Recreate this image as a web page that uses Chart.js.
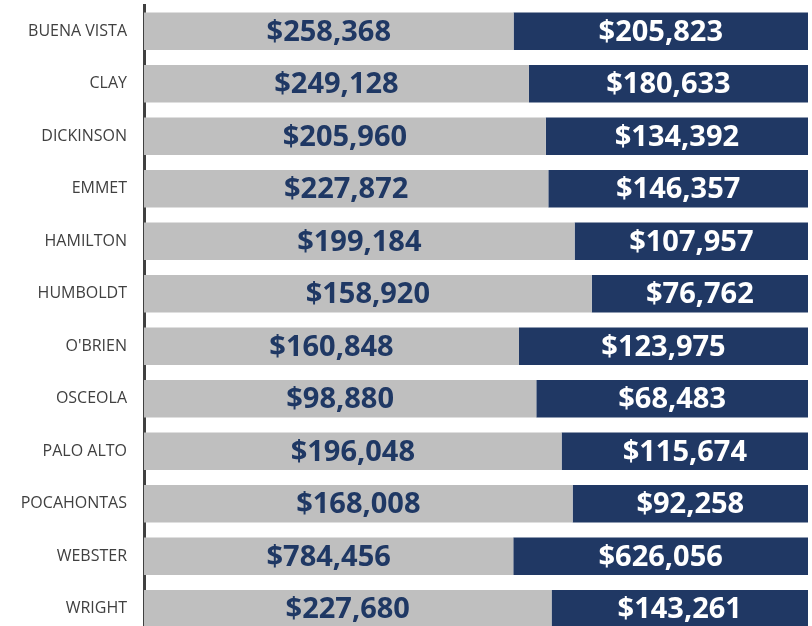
<!DOCTYPE html>
<html>
<head>
<meta charset="utf-8">
<script src="https://cdn.jsdelivr.net/npm/chart.js@4"></script>
<style>
    html, body { margin: 0; padding: 0; background: #fff; overflow: hidden; }
    canvas { display: block; }
</style>
</head>
<body>
<canvas id="chart" width="812" height="640"></canvas>
<script>
const counties = ['BUENA VISTA', 'CLAY', 'DICKINSON', 'EMMET', 'HAMILTON', 'HUMBOLDT',
    "O'BRIEN", 'OSCEOLA', 'PALO ALTO', 'POCAHONTAS', 'WEBSTER', 'WRIGHT'];
const greyValues = [258368, 249128, 205960, 227872, 199184, 158920, 160848, 98880, 196048, 168008, 784456, 227680];
const navyValues = [205823, 180633, 134392, 146357, 107957, 76762, 123975, 68483, 115674, 92258, 626056, 143261];

// bars are 100% stacked, so turn each pair into shares
function share(values, i) {
    return values[i] / (greyValues[i] + navyValues[i]) * 100;
}

function money(v) {
    return '$' + v.toLocaleString('en-US');
}

const segmentLabels = {
    id: 'segmentLabels',
    afterDatasetsDraw(chart) {
        const ctx = chart.ctx;
        ctx.save();
        ctx.font = 'bold 29px "Open Sans"';
        ctx.textAlign = 'center';
        ctx.textBaseline = 'middle';
        chart.data.datasets.forEach((ds, di) => {
            const meta = chart.getDatasetMeta(di);
            meta.data.forEach((bar, i) => {
                ctx.fillStyle = ds.labelColor;
                ctx.fillText(money(ds.raw[i]), (bar.x + bar.base) / 2, bar.y + 1);
            });
        });
        ctx.restore();
    }
};

new Chart(document.getElementById('chart'), {
    type: 'bar',
    data: {
        labels: counties,
        datasets: [
            {
                data: counties.map((c, i) => share(greyValues, i)),
                raw: greyValues,
                backgroundColor: '#BFBFBF',
                labelColor: '#1F3864',
                categoryPercentage: 1,
                barPercentage: 0.71
            },
            {
                data: counties.map((c, i) => share(navyValues, i)),
                raw: navyValues,
                backgroundColor: '#203864',
                labelColor: '#FFFFFF',
                categoryPercentage: 1,
                barPercentage: 0.71
            }
        ]
    },
    options: {
        indexAxis: 'y',
        responsive: false,
        animation: false,
        layout: { padding: { top: 5, bottom: 5, right: 4, left: 0 } },
        plugins: {
            legend: { display: false },
            tooltip: { enabled: false }
        },
        scales: {
            x: {
                stacked: true,
                min: 0,
                max: 100,
                display: false
            },
            y: {
                stacked: true,
                afterFit(scale) {
                    scale.width = 144;
                    // tick padding would otherwise push the plot down
                    scale.paddingTop = 0;
                    scale.paddingBottom = 0;
                },
                grid: { display: false, drawTicks: false },
                border: { display: true, color: '#404040', width: 3 },
                ticks: {
                    color: '#404040',
                    padding: 17,
                    font: { family: '"Open Sans"', size: 16 }
                }
            }
        }
    },
    plugins: [segmentLabels]
});
</script>
</body>
</html>
